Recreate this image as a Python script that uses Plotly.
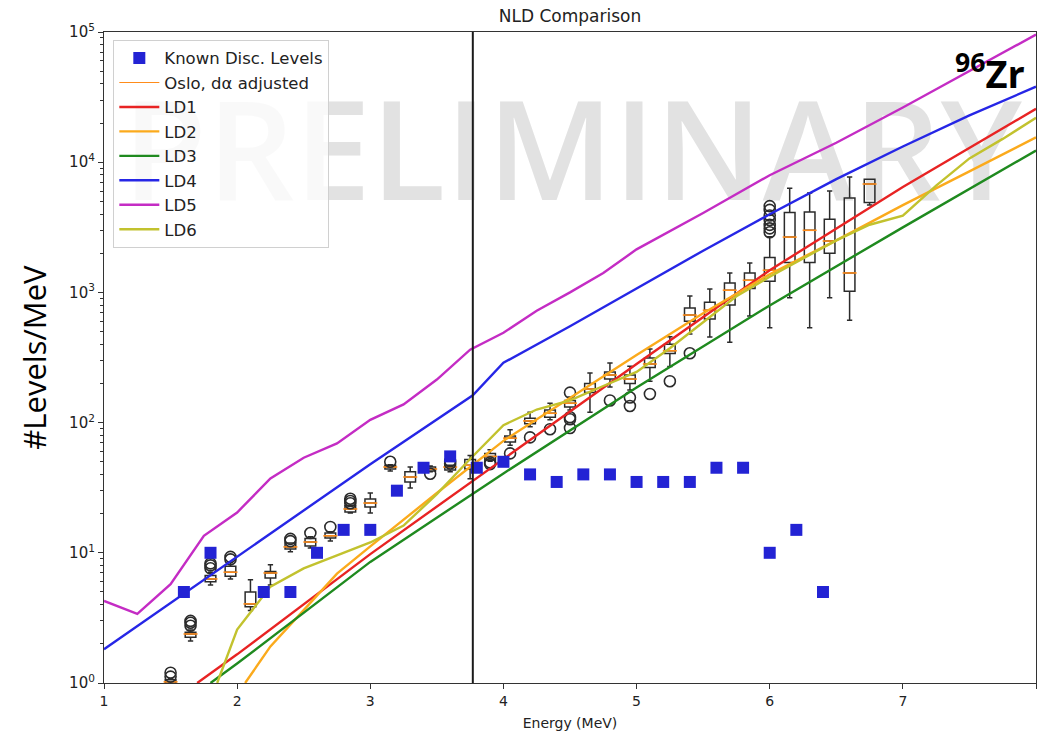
import plotly.graph_objects as go

# ---- Known discrete levels (levels per MeV) ----
disc_E = [1.6, 1.8, 2.2, 2.4, 2.6, 2.8, 3.0, 3.2, 3.4, 3.6, 3.8, 4.0, 4.2, 4.4,
          4.6, 4.8, 5.0, 5.2, 5.4, 5.6, 5.8, 6.0, 6.2, 6.4]
disc_rho = [5, 10, 5, 5, 10, 15, 15, 30, 45, 55, 45, 50, 40, 35,
            40, 40, 35, 35, 35, 45, 45, 10, 15, 5]

# ---- Oslo method NLD, distribution summary per energy bin ----
oslo_E = [1.5, 1.65, 1.8, 1.95, 2.1, 2.25, 2.4, 2.55, 2.7, 2.85, 3.0, 3.15,
          3.3, 3.45, 3.6, 3.75, 3.9, 4.05, 4.2, 4.35, 4.5, 4.65, 4.8, 4.95,
          5.1, 5.25, 5.4, 5.55, 5.7, 5.85, 6.0, 6.15, 6.3, 6.45, 6.6, 6.75]
oslo_low = [0.92, 2.1, 5.65, 6.3, 3.6, 5.65, 10.2, 10.9, 12.3, 20.2, 20.2, 42.5,
            31.4, 42, 42, 37, 50.5, 67, 93, 105, 125, 120, 188, 178,
            208, 270, 480, 455, 415, 660, 535, 910, 535, 910, 610, 4700]
oslo_q1 = [0.98, 2.25, 6.0, 6.6, 3.85, 6.4, 10.7, 11.3, 13.0, 20.6, 22.5, 44,
           35, 42.5, 43.2, 44, 51.5, 71, 98, 110, 132, 170, 216, 200,
           265, 340, 600, 625, 800, 1070, 1220, 1700, 1700, 2000, 1020, 4900]
oslo_med = [1.02, 2.38, 6.3, 7.1, 4.05, 7.0, 11.1, 12.1, 13.5, 21.7, 24.1, 45.6,
            38.2, 44, 45.6, 47, 55, 76, 103, 118, 141, 181, 232, 216,
            282, 356, 670, 730, 1040, 1240, 1480, 2660, 3000, 2480, 1410, 6800]
oslo_q3 = [1.06, 2.45, 6.7, 7.9, 5.0, 7.2, 11.9, 12.9, 14.2, 23.0, 25.9, 47,
           42, 45.6, 47, 52, 58, 79, 108, 125, 148, 200, 245, 232,
           313, 400, 760, 840, 1180, 1410, 1850, 4100, 4150, 3650, 5300, 7400]
oslo_high = [1.09, 2.55, 7.1, 8.4, 6.2, 8.1, 11.9, 13.3, 14.5, 23.0, 28.8, 47.5,
             45.6, 46.5, 47, 56, 62, 88, 120, 141, 157, 240, 287, 271,
             367, 456, 940, 1060, 1410, 1680, 2680, 6300, 5800, 6000, 7700, 7400]

# Outlying samples
flier_E = [1.5, 1.5, 1.65, 1.65, 1.65, 1.8, 1.8, 1.8, 1.95, 1.95, 2.4, 2.4,
           2.55, 2.7, 2.85, 2.85, 2.85, 3.15, 3.45, 3.6, 3.6, 3.9, 3.9, 4.05,
           4.2, 4.35, 4.5, 4.5, 4.5, 4.5, 4.8, 4.95, 4.95, 5.1, 5.25, 5.4,
           6.0, 6.0, 6.0, 6.0, 6.0, 6.0, 6.0]
flier_rho = [1.12, 1.2, 2.75, 2.9, 3.0, 7.6, 8.0, 8.3, 8.9, 9.3, 12.3, 12.8,
             14.2, 15.8, 24, 25, 26, 50, 40.5, 48.5, 50.5, 48, 49.5, 58,
             77, 89, 91, 106, 110, 170, 148, 134, 156, 166, 208, 341,
             2900, 3100, 3300, 3600, 3900, 4300, 4600]

# ---- Level-density models ----
ld1_E = [1.7, 2, 3, 4, 5, 6, 7, 8]
ld1_rho = [1.0, 1.66, 9.77, 52.5, 282, 1480, 6460, 25700]

ld2_E = [2.06, 2.25, 2.5, 2.75, 3, 3.5, 4, 4.5, 5, 5.5, 6, 6.5, 7, 7.5, 8]
ld2_rho = [1.0, 1.91, 3.63, 6.92, 11.2, 28.8, 72.4, 155, 331, 692, 1380,
           2510, 4680, 8510, 15500]

ld3_E = [1.8, 2, 3, 4, 5, 6, 7, 8]
ld3_rho = [1.0, 1.41, 8.51, 40.7, 186, 794, 3160, 12300]

ld4_E = [1, 2, 3, 3.77, 4, 4.5, 5, 5.5, 6, 6.5, 7, 7.5, 8]
ld4_rho = [1.82, 9.33, 47.9, 162, 288, 550, 1070, 2090, 3980, 7410, 13200,
           22900, 38000]

ld5_E = [1, 1.25, 1.5, 1.75, 2, 2.25, 2.5, 2.75, 3, 3.25, 3.5, 3.75, 4, 4.25,
         4.5, 4.75, 5, 5.5, 6, 6.5, 7, 7.5, 8]
ld5_rho = [4.27, 3.39, 5.75, 13.5, 20.4, 37.2, 53.7, 69.2, 105, 138, 214, 363,
           490, 724, 1000, 1410, 2140, 4070, 7940, 14100, 26300, 50100, 95500]

ld6_E = [1.85, 2.0, 2.25, 2.5, 2.75, 3.0, 3.25, 3.5, 3.75, 4.0, 4.25, 4.5,
         4.75, 5.0, 5.25, 5.5, 5.75, 6.0, 6.25, 6.5, 6.75, 7.0, 7.25, 7.5,
         7.75, 8.0]
ld6_rho = [1.0, 2.57, 5.5, 7.59, 9.55, 12.0, 16.2, 28.2, 52.5, 95.5, 126, 148,
           191, 245, 372, 589, 933, 1320, 1820, 2510, 3310, 3890, 6610, 10700,
           15100, 21900]

# Separation energy marker
sn_energy = 3.77

y_tick_vals = [1, 10, 100, 1000, 10000, 100000]
y_tick_text = ["10<sup>0</sup>", "10<sup>1</sup>", "10<sup>2</sup>",
               "10<sup>3</sup>", "10<sup>4</sup>", "10<sup>5</sup>"]
x_tick_vals = [1, 2, 3, 4, 5, 6, 7, 8]

BASE_FONT = "DejaVu Sans"
MEDIAN_ORANGE = "#ff8c1a"

fig = go.Figure()

# Box-and-whisker summary of the Oslo NLD
fig.add_trace(go.Box(
    x=oslo_E, q1=oslo_q1, median=oslo_med, q3=oslo_q3,
    lowerfence=oslo_low, upperfence=oslo_high,
    width=0.08, whiskerwidth=0.5, boxpoints=False,
    line=dict(color="#2b2b2b", width=1.5),
    fillcolor="rgba(0,0,0,0)", showlegend=False, hoverinfo="skip",
))
fig.add_trace(go.Scatter(
    x=oslo_E, y=oslo_med, mode="markers", showlegend=False,
    marker=dict(symbol="line-ew", size=10,
                line=dict(color=MEDIAN_ORANGE, width=1.6)),
))
fig.add_trace(go.Scatter(
    x=flier_E, y=flier_rho, mode="markers", showlegend=False,
    marker=dict(symbol="circle-open", size=11,
                line=dict(color="#2b2b2b", width=1.6), color="#2b2b2b"),
))

# Legend handle for the Oslo data
fig.add_trace(go.Scatter(
    x=[None], y=[None], mode="lines", name="Oslo, d\u03b1 adjusted",
    line=dict(color=MEDIAN_ORANGE, width=1.2), legendrank=2,
))

models = [
    ("LD1", ld1_E, ld1_rho, "#e82323"),
    ("LD2", ld2_E, ld2_rho, "#fbaa1c"),
    ("LD3", ld3_E, ld3_rho, "#1f8a1f"),
    ("LD4", ld4_E, ld4_rho, "#2626e6"),
    ("LD5", ld5_E, ld5_rho, "#c42cc4"),
    ("LD6", ld6_E, ld6_rho, "#c2c22e"),
]
for rank, (name, ex, rho, col) in enumerate(models, start=3):
    fig.add_trace(go.Scatter(
        x=ex, y=rho, mode="lines", name=name,
        line=dict(color=col, width=2.4), legendrank=rank,
    ))

fig.add_trace(go.Scatter(
    x=disc_E, y=disc_rho, mode="markers", name="Known Disc. Levels",
    marker=dict(symbol="square", size=12, color="#2323d4"), legendrank=1,
))

# Watermark behind the data
fig.add_shape(
    type="rect", xref="paper", yref="paper", x0=0.005, x1=1, y0=0.65, y1=0.97,
    line=dict(width=0), fillcolor="rgba(0,0,0,0)", layer="below",
    label=dict(text="PRELIMINARY", textposition="middle center",
               font=dict(family="Open Sans", size=137, color="#e2e2e2",
                         weight=600)),
)

# Vertical marker line
fig.add_shape(
    type="line", xref="x", yref="paper", x0=sn_energy, x1=sn_energy,
    y0=0, y1=1, line=dict(color="#1a1a1a", width=2),
)

fig.add_annotation(
    text="<b><sup>96</sup>Zr</b>", xref="paper", yref="paper",
    x=0.99, y=0.985, xanchor="right", yanchor="top", showarrow=False,
    font=dict(family="Open Sans", size=38, color="black"),
)
fig.add_annotation(
    text="#Levels/MeV", xref="paper", yref="paper",
    x=-0.076, y=0.5, textangle=-90, showarrow=False,
    xanchor="center", yanchor="middle",
    font=dict(family="Open Sans", size=31, color="black"),
)

fig.update_layout(
    width=1039, height=738,
    margin=dict(l=104, r=3, t=32, b=55),
    paper_bgcolor="white", plot_bgcolor="white",
    font=dict(family=BASE_FONT, size=14, color="#222"),
    title=dict(text="NLD Comparison", x=0.5, xref="paper", xanchor="center",
               y=1 - 16 / 738, yref="container", yanchor="middle",
               font=dict(family=BASE_FONT, size=17, color="#222")),
    legend=dict(x=0.01, y=0.988, xanchor="left", yanchor="top",
                bgcolor="rgba(255,255,255,0.8)", bordercolor="#d0d0d0",
                borderwidth=1, itemwidth=40,
                font=dict(family=BASE_FONT, size=16.5, color="#222"),
                traceorder="normal"),
    xaxis=dict(range=[1, 8], tickvals=x_tick_vals, ticks="outside", ticklen=5,
               tickcolor="#333", showline=True, linecolor="#333", linewidth=1.2,
               mirror=True, showgrid=False, zeroline=False,
               tickfont=dict(family=BASE_FONT, size=14, color="#222"),
               title=dict(text="Energy (MeV)", standoff=10,
                          font=dict(family=BASE_FONT, size=14, color="#222"))),
    yaxis=dict(type="log", range=[0, 5], tickvals=y_tick_vals,
               ticktext=y_tick_text, ticks="outside", ticklen=5,
               tickcolor="#333", showline=True, linecolor="#333", linewidth=1.2,
               mirror=True, showgrid=False, zeroline=False,
               tickfont=dict(family=BASE_FONT, size=15, color="#222"),
               minor=dict(ticks="outside", ticklen=3, tickcolor="#333",
                          dtick="D1", showgrid=False)),
    showlegend=True,
)

fig.write_html("out.html")
